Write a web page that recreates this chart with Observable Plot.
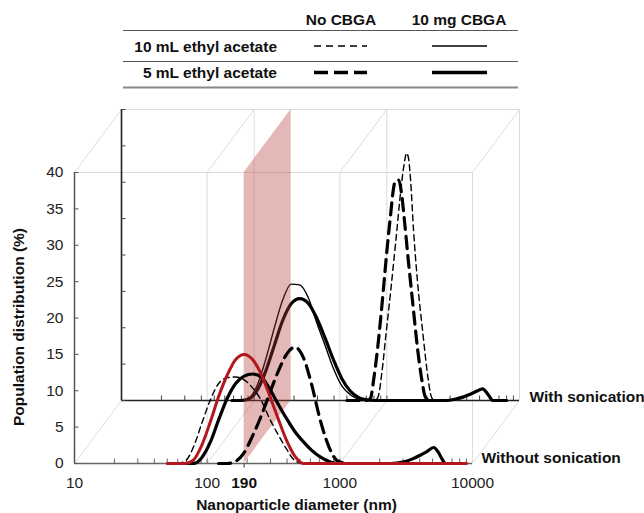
<!DOCTYPE html>
<html>
<head>
<meta charset="utf-8">
<script src="https://cdn.jsdelivr.net/npm/d3@7"></script>
<script src="https://cdn.jsdelivr.net/npm/@observablehq/plot@0.6"></script>
<style>
  html, body { margin: 0; padding: 0; background: #fff; }
  #wrap { width: 644px; height: 513px; overflow: hidden; font-family: "Liberation Sans", Arial, sans-serif; }
  #legend { width: 644px; height: 96px; }
  #legend svg, #chart svg { display: block; }
  #legend text { font-family: "Liberation Sans", Arial, sans-serif; font-weight: bold; font-size: 15.5px; }
</style>
</head>
<body>
<div id="wrap"><div id="legend"></div><div id="chart"></div></div>
<script>
// ---------- Legend content ----------
const legendCols = ["No CBGA", "10 mg CBGA"];
const legendRows = ["10 mL ethyl acetate", "5 mL ethyl acetate"];

// ---------- Axis ticks ----------
const xTickLabels = [10, 100, 1000, 10000];
const highlightDiameter = 190;
const yTicks = [0, 5, 10, 15, 20, 25, 30, 35, 40];
const minorTicks = [20, 30, 40, 50, 60, 70, 80, 90, 100, 200, 300, 400, 500, 600, 700, 800, 900, 1000,
                    2000, 3000, 4000, 5000, 6000, 7000, 8000, 9000];
const gridX = [100, 1000, 10000];
const cornerX = [10, 100, 1000, 10000];
const cornerY = [0, 40];

// ---------- Without sonication (front plane) ----------
const noSon10mLNoCBGA_d = [50, 59, 68, 79, 91, 106, 122, 142, 164, 190, 220, 255, 295, 342, 396, 458, 530];
const noSon10mLNoCBGA_v = [0, 0, 0.3, 2.3, 5.5, 8.8, 11.0, 11.8, 11.9, 11.5, 10.4, 8.7, 6.2, 4.0, 2.0, 0.4, 0];

const noSon10mLCBGA_d = [50, 59, 68, 79, 91, 106, 122, 142, 164, 190, 220, 255, 295, 342, 396, 458, 530, 1000, 3000, 9000];
const noSon10mLCBGA_v = [0, 0, 0, 0.5, 2.5, 5.8, 9.2, 12.2, 14.3, 15.0, 14.3, 12.3, 9.4, 6.2, 3.2, 1.0, 0, 0, 0, 0];

const noSon5mLNoCBGA_d = [122, 142, 164, 190, 220, 255, 295, 342, 396, 458, 530, 614, 711, 823, 953, 1100];
const noSon5mLNoCBGA_v = [0, 0, 0.3, 1.5, 3.8, 6.5, 9.6, 12.6, 15.0, 16.0, 14.6, 10.8, 6.0, 2.4, 0.4, 0];

const noSon5mLCBGA_d = [68, 79, 91, 106, 122, 142, 164, 190, 220, 255, 295, 342, 396, 458, 530, 614, 711, 823, 953,
                        2400, 3000, 3500, 4000, 4500, 5100, 5500, 5900, 6260, 8000];
const noSon5mLCBGA_v = [0, 0, 0.8, 3.0, 6.0, 9.0, 11.0, 12.0, 12.3, 11.9, 10.3, 8.2, 6.2, 4.4, 3.0, 1.8, 0.9, 0.3, 0,
                        0, 0.2, 0.6, 1.1, 1.6, 2.2, 1.6, 0.6, 0, 0];

// ---------- With sonication (back plane) ----------
const son10mLNoCBGA_d = [600, 800, 855, 920, 980, 1070, 1170, 1275, 1350, 1410, 1460, 1510, 1590, 1700, 1860, 2040, 2130, 2250];
const son10mLNoCBGA_v = [0, 0, 0.4, 4.0, 8.7, 15.1, 22.0, 28.9, 32.5, 34.0, 33.2, 30.3, 23.4, 16.5, 9.6, 3.2, 1.0, 0];

const son10mLCBGA_d = [68, 79, 91, 106, 122, 142, 164, 190, 220, 255, 295, 342, 396, 458, 530, 614, 711, 823];
const son10mLCBGA_v = [0, 0, 0.3, 2.2, 5.6, 10.0, 13.8, 16.0, 15.9, 14.2, 10.8, 7.6, 4.4, 2.0, 0.8, 0.2, 0, 0];

const son5mLNoCBGA_d = [500, 711, 753, 800, 850, 900, 950, 1000, 1070, 1120, 1160, 1230, 1300, 1350, 1460, 1570, 1710, 1830, 1950, 2100];
const son5mLNoCBGA_v = [0, 0, 0.3, 3.2, 7.0, 11.4, 16.0, 20.5, 25.7, 29.0, 30.2, 30.3, 28.0, 25.2, 18.8, 13.3, 6.9, 3.0, 0.5, 0];

const son5mLCBGA_d = [68, 79, 91, 106, 122, 142, 164, 190, 220, 255, 295, 342, 396, 458, 530, 614, 711, 823,
                      2800, 3300, 3800, 4300, 4800, 5260, 5700, 6000, 6270, 8000];
const son5mLCBGA_v = [0, 0, 0.2, 1.5, 4.0, 7.6, 11.0, 13.3, 14.0, 13.4, 11.4, 8.6, 5.6, 3.0, 1.3, 0.4, 0.1, 0,
                      0, 0.2, 0.5, 0.9, 1.3, 1.6, 1.0, 0.4, 0, 0];

// ---------- Layout / style ----------
const FONT = "'Liberation Sans', Arial, sans-serif";
const W = 644, H_SVG = 417;
const xRange = [74, 472], yRange = [367, 76];
const DX = 47, DY = -63;                 // depth offset of the back plane (px)
const DEC = (xRange[1] - xRange[0]) / 3; // px per decade
const UNIT = (yRange[0] - yRange[1]) / 40; // px per %
const K = Math.pow(10, DX / DEC), HOFF = -DY / UNIT;
const TICK = 4.5 / UNIT;
const YTICKX = 10 * Math.pow(10, 4.5 / DEC);
const back = {dx: DX, dy: DY};
const GRID = "#dcdcdc";
const RED = "#b3161c";

const pts = (d, v) => d.map((x, i) => ({x, y: v[i]}));
const corners = cornerX.flatMap(x => cornerY.map(y => ({x, y})));
const band = [{x: highlightDiameter, y1: 0, y2: 40}, {x: highlightDiameter * K, y1: HOFF, y2: 40 + HOFF}];

const thin = {strokeWidth: 1.4};
const thick = {strokeWidth: 3.2};
const dashThin = {strokeDasharray: "6,4"};
const dashThick = {strokeDasharray: "12,7"};
const lineOpts = {x: "x", y: "y", curve: "monotone-x", stroke: "#000", strokeLinejoin: "round"};

const chart = Plot.plot({
  width: W, height: H_SVG,
  marginLeft: xRange[0], marginRight: W - xRange[1], marginTop: yRange[1], marginBottom: H_SVG - yRange[0],
  x: {type: "log", domain: [10, 10000], axis: null},
  y: {domain: [0, 40], axis: null},
  style: {fontFamily: FONT, fontSize: "15.5px", background: "#fff", color: "#222", overflow: "visible"},
  marks: [
    // grid: front & back planes
    Plot.ruleX(gridX, {x: d => d, y1: 0, y2: 40, stroke: GRID}),
    Plot.ruleY([40], {y: d => d, x1: 10, x2: 10000, stroke: GRID}),
    Plot.ruleX(gridX, {x: d => d, y1: 0, y2: 40, stroke: GRID, ...back}),
    Plot.ruleY([40], {y: d => d, x1: 10, x2: 10000, stroke: GRID, ...back}),
    // depth lines
    Plot.link(corners, {x1: "x", y1: "y", x2: d => d.x * K, y2: d => d.y + HOFF, stroke: GRID}),
    // back plane axes
    Plot.ruleY([0], {y: d => d, x1: 10, x2: 10000, stroke: "#222", strokeWidth: 1.6, ...back}),
    Plot.ruleX([10], {x: d => d, y1: 0, y2: 40, stroke: "#222", strokeWidth: 1.6, ...back}),
    Plot.ruleX(minorTicks, {x: d => d, y1: 0, y2: TICK, stroke: "#444", ...back}),
    Plot.ruleY(yTicks, {y: d => d, x1: 10, x2: YTICKX, stroke: "#444", ...back}),
    // back plane curves (with sonication)
    Plot.line(pts(son10mLNoCBGA_d, son10mLNoCBGA_v), {...lineOpts, ...thin, ...dashThin, ...back}),
    Plot.line(pts(son5mLNoCBGA_d, son5mLNoCBGA_v), {...lineOpts, ...thick, ...dashThick, ...back}),
    Plot.line(pts(son10mLCBGA_d, son10mLCBGA_v), {...lineOpts, ...thin, ...back}),
    Plot.line(pts(son5mLCBGA_d, son5mLCBGA_v), {...lineOpts, ...thick, ...back}),
    // highlighted 190 nm plane
    Plot.areaY(band, {x: "x", y1: "y1", y2: "y2", fill: "#b83a3a", fillOpacity: 0.36}),
    // front plane axes
    Plot.ruleY([0], {y: d => d, x1: 10, x2: 10000, stroke: "#666", strokeWidth: 1.5}),
    Plot.ruleX([10], {x: d => d, y1: 0, y2: 40, stroke: "#555", strokeWidth: 1.5}),
    Plot.ruleX(minorTicks, {x: d => d, y1: 0, y2: TICK, stroke: "#666"}),
    Plot.ruleX([highlightDiameter], {x: d => d, y1: 0, y2: -TICK, stroke: "#555", strokeWidth: 1.2}),
    Plot.ruleY(yTicks, {y: d => d, x1: 10, x2: YTICKX, stroke: "#555"}),
    // front plane curves (without sonication)
    Plot.line(pts(noSon10mLNoCBGA_d, noSon10mLNoCBGA_v), {...lineOpts, ...thin, ...dashThin}),
    Plot.line(pts(noSon5mLNoCBGA_d, noSon5mLNoCBGA_v), {...lineOpts, ...thick, ...dashThick}),
    Plot.line(pts(noSon5mLCBGA_d, noSon5mLCBGA_v), {...lineOpts, ...thick}),
    Plot.line(pts(noSon10mLCBGA_d, noSon10mLCBGA_v), {...lineOpts, strokeWidth: 3, stroke: RED}),
    // tick labels
    Plot.text(xTickLabels, {x: d => d, y: 0, text: d => String(d), dy: 20, fill: "#222", lineAnchor: "middle"}),
    Plot.text([highlightDiameter], {x: d => d, y: 0, text: d => String(d), dy: 20, fill: "#111", fontWeight: "bold", lineAnchor: "middle"}),
    Plot.text(yTicks, {x: 10, y: d => d, text: d => String(d), dx: -11, textAnchor: "end", fill: "#222", lineAnchor: "middle"}),
    // plane labels
    Plot.text(["Without sonication"], {x: 10000, y: 0, text: d => d, dx: 9, dy: -5, textAnchor: "start", fontWeight: "bold", fill: "#111", lineAnchor: "middle"}),
    Plot.text(["With sonication"], {x: 10000, y: 0, text: d => d, dx: DX + 10, dy: DY - 3, textAnchor: "start", fontWeight: "bold", fill: "#111", lineAnchor: "middle"}),
    // axis titles
    Plot.text(["Nanoparticle diameter (nm)"], {frameAnchor: "bottom", text: d => d, dx: 23, dy: 42, fontWeight: "bold", fill: "#111", textAnchor: "middle", lineAnchor: "middle"}),
    Plot.text(["Population distribution (%)"], {frameAnchor: "left", text: d => d, rotate: -90, dx: -55, dy: 9, fontWeight: "bold", fill: "#111", textAnchor: "middle", lineAnchor: "middle"})
  ]
});
document.getElementById("chart").appendChild(chart);

// ---------- Legend table (HTML/SVG above the chart) ----------
const colX = [341, 459];
const rowY = [46, 72.5];
const sampleX = [[314, 367], [432, 487]];
const styles = [
  [{w: 1.6, dash: "7,5"}, {w: 1.6, dash: null}],
  [{w: 3.6, dash: "14,6"}, {w: 3.6, dash: null}]
];
let s = `<svg width="644" height="96">`;
legendCols.forEach((c, i) => { s += `<text x="${colX[i]}" y="19" text-anchor="middle" dominant-baseline="central" fill="#111">${c}</text>`; });
s += `<line x1="123" x2="518" y1="30.5" y2="30.5" stroke="#555" stroke-width="1"/>`;
legendRows.forEach((r, j) => {
  s += `<text x="277" y="${rowY[j]}" text-anchor="end" dominant-baseline="central" fill="#111">${r}</text>`;
  styles[j].forEach((st, i) => {
    s += `<line x1="${sampleX[i][0]}" x2="${sampleX[i][1]}" y1="${rowY[j]}" y2="${rowY[j]}" stroke="#000" stroke-width="${st.w}"${st.dash ? ` stroke-dasharray="${st.dash}"` : ""}/>`;
  });
});
s += `<line x1="123" x2="518" y1="61.5" y2="61.5" stroke="#555" stroke-width="1"/>`;
s += `<line x1="123" x2="518" y1="87.5" y2="87.5" stroke="#888" stroke-width="2"/>`;
s += `</svg>`;
document.getElementById("legend").innerHTML = s;
</script>
</body>
</html>
